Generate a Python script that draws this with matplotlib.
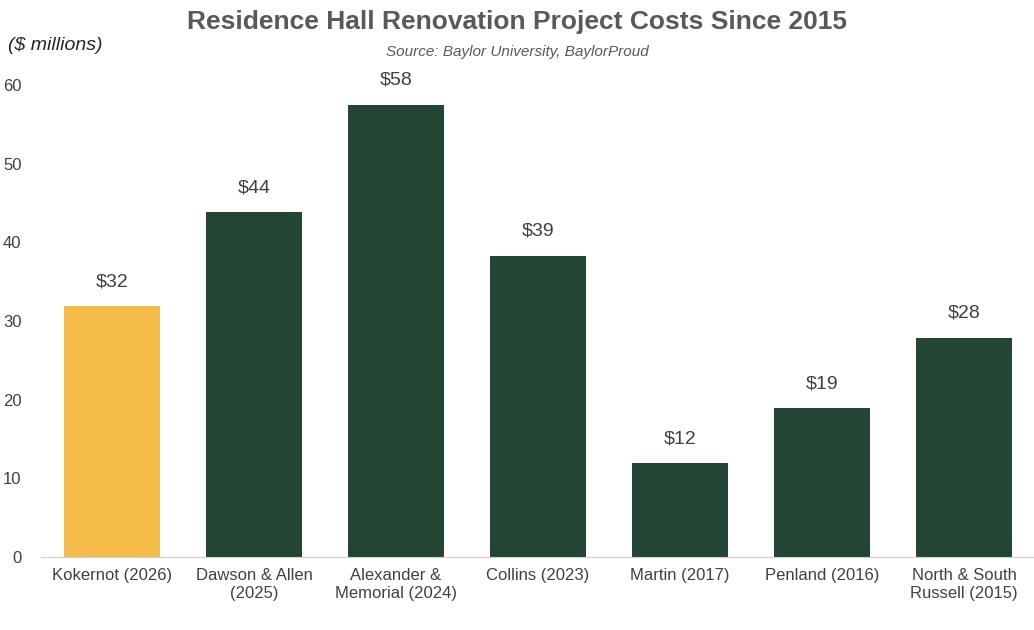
import matplotlib
matplotlib.use("Agg")
import matplotlib.pyplot as plt

# data
projects = ["Kokernot (2026)", "Dawson & Allen\n(2025)", "Alexander &\nMemorial (2024)",
            "Collins (2023)", "Martin (2017)", "Penland (2016)", "North & South\nRussell (2015)"]
costs = [31.9, 43.8, 57.5, 38.3, 11.9, 18.9, 27.9]
labels = ["$32", "$44", "$58", "$39", "$12", "$19", "$28"]
colors = ["#F4BB48"] + ["#234634"] * 6

plt.rcParams["font.family"] = ["Liberation Sans", "DejaVu Sans"]

fig = plt.figure(figsize=(10.34, 6.30), dpi=100)
ax = fig.add_axes([41 / 1034, 1 - 557 / 630, 994 / 1034, (557 - 85) / 630])

x = range(len(projects))
ax.bar(x, costs, width=0.67, color=colors)
for i, (v, lab) in enumerate(zip(costs, labels)):
    ax.text(i, v + 2, lab, ha="center", va="bottom", fontsize=14, color="#404040")

ax.set_xlim(-0.5, len(projects) - 0.5)
ax.set_ylim(0, 60)
ax.set_yticks(range(0, 61, 10))
ax.set_xticks(list(x))
ax.set_xticklabels(projects, fontsize=12, color="#404040")
ax.tick_params(axis="y", labelsize=12, colors="#404040", length=0, pad=14)
ax.tick_params(axis="x", length=0, pad=8)
for s in ["top", "right", "left"]:
    ax.spines[s].set_visible(False)
ax.spines["bottom"].set_color("#d0d0d0")

fig.text(0.5, 0.965, "Residence Hall Renovation Project Costs Since 2015", ha="center", va="center",
         fontsize=19, fontweight="bold", color="#595959")
fig.text(0.5, 0.918, "Source: Baylor University, BaylorProud", ha="center", va="center",
         fontsize=11, style="italic", color="#595959")
fig.text(0.008, 0.928, "($ millions)", ha="left", va="center", fontsize=14, style="italic",
         color="#262626")

fig.savefig("out.png", dpi=100)
